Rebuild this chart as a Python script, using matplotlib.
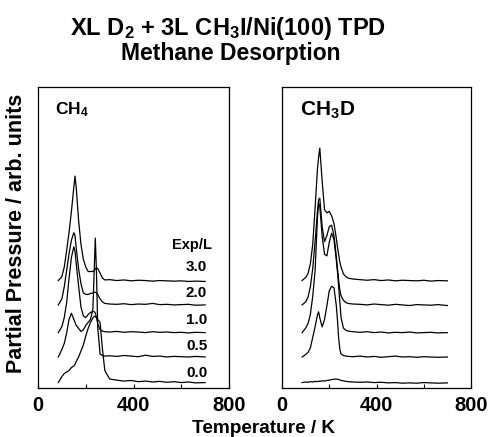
import matplotlib
matplotlib.use('Agg')
import matplotlib.pyplot as plt
from matplotlib.ticker import MultipleLocator

plt.rcParams['font.family'] = ['Liberation Sans', 'DejaVu Sans']
plt.rcParams['font.weight'] = 'bold'

# temperature grid (K) shared by all traces
temp = [85, 100, 110, 120, 130, 140, 150, 155, 160, 170, 180, 190, 200, 210, 220,
        230, 235, 240, 245, 250, 260, 270, 280, 300, 330, 360, 390, 420, 450, 480,
        510, 540, 570, 600, 630, 660, 700]

exposures = ['0.0', '0.5', '1.0', '2.0', '3.0']

# CH4 signal, arb. units
ch4_00 = [0, 2, 3, 3.5, 4, 5, 5.5, 6, 7, 8.5, 10.5, 12.5, 15.5, 18, 20, 21.5, 22, 22, 21.5, 21,
          20, 11, 4, 1.2, 0.8, 0.5, 0.7, 0.3, 0.5, 0.2, 0.4, 0.1, 0.3, 0, 0.2, -0.1, 0]
ch4_05 = [0, 2.5, 4.5, 8, 12.5, 14.5, 12.5, 11.5, 10.5, 9.5, 8.5, 9, 10.5, 11.5, 12.5, 16, 28, 39.5, 28, 10,
          1, 0.5, 0.3, 0.4, 0.2, 0.5, 0.3, 0.1, 0.6, 0.2, 0.3, 0, 0.2, 0.1, 0, 0.2, 0]
ch4_10 = [0, 2, 5, 10, 18, 25, 28.5, 27, 23, 15.5, 8.5, 5.5, 5, 6, 6.7, 7, 7, 6.5, 5, 3,
          1, 0.5, 0.3, 0.2, 0.4, 0.1, 0.3, 0.2, 0, 0.3, 0.1, 0.2, 0, 0.1, -0.1, 0.1, 0]
ch4_20 = [0, 2, 6, 11.5, 17, 21.5, 24, 23, 19, 12, 7, 4, 3.5, 3.5, 3.8, 4, 4.2, 4.2, 4, 3.5,
          2, 1, 0.5, 0.3, 0.2, 0.4, 0.1, 0.3, 0.2, 0.5, 0.1, 0.2, 0, 0.1, 0.2, -0.1, 0]
ch4_30 = [0, 1.3, 4.5, 10, 16, 23, 31, 34.7, 31, 20, 12, 7, 4.5, 3, 3, 3, 3.3, 3.8, 4.3, 4,
          2.5, 0.8, 0.2, 0.3, 0, 0.2, -0.1, 0.1, 0, -0.2, 0, -0.1, -0.2, -0.1, -0.3, -0.2, -0.3]

# CH3D signal, arb. units
cd3_00 = [0, 0.2, 0.1, 0.3, 0.2, 0.4, 0.3, 0.5, 0.4, 0.6, 0.5, 0.7, 0.8, 1.0, 1.1, 1.2, 1.1, 1.0, 0.9, 0.7,
          0.6, 0.4, 0.3, 0.2, 0.1, 0.2, 0, 0.1, -0.1, 0, -0.2, -0.1, -0.2, 0, -0.1, -0.2, -0.1]
cd3_05 = [0, 0.8, 1.5, 3, 6.5, 10, 14, 15, 13, 10, 12.5, 17, 22, 23.5, 23, 17, 12, 6, 2.5, 1,
          0.5, 0.3, 0.2, 0.1, 0.3, 0, 0.2, -0.1, 0.1, 0.3, 0, 0.1, -0.1, 0.1, 0, -0.1, 0]
cd3_10 = [0, 1.5, 3, 6, 12, 20.5, 38, 43, 42, 32, 26, 25.5, 30, 33, 31, 24, 20, 15, 10, 5,
          1.5, 0.8, 0.5, 0.3, 0.1, 0.3, 0, 0.2, -0.1, 0.1, 0, 0.2, -0.1, 0, 0.1, -0.1, 0]
cd3_20 = [0, 1, 2.5, 6, 12, 21, 31, 35, 35.5, 26, 21, 23, 26, 26.5, 23, 16, 12, 8, 5, 3,
          1.5, 0.8, 0.5, 0.3, 0.2, 0, 0.3, 0.1, -0.1, 0.2, 0, -0.2, 0.1, 0, -0.1, 0.1, -0.2]
cd3_30 = [0, 1, 2.3, 5.5, 12, 24, 37, 41, 44, 33, 23.5, 22.5, 23, 21.5, 19, 14, 11, 8.5, 6, 4.5,
          2.2, 1.3, 0.8, 0.5, 0.3, 0.1, 0.3, 0, 0.2, -0.1, 0.1, 0, -0.1, 0.1, -0.2, 0, -0.1]

ch4 = [ch4_00, ch4_05, ch4_10, ch4_20, ch4_30]
cd3 = [cd3_00, cd3_05, cd3_10, cd3_20, cd3_30]

# vertical stacking of the traces
offsets = [1.8, 10.3, 18.4, 27.6, 35.7]
label_y = [5.0, 13.8, 22.6, 31.5, 40.2]

fig = plt.figure(figsize=(4.91, 4.37), dpi=100)
W, H = 491, 437
ax1 = fig.add_axes([38 / W, 1 - 388 / H, 191 / W, 301 / H])
ax2 = fig.add_axes([282 / W, 1 - 388 / H, 189 / W, 301 / H])

for ax, traces in [(ax1, ch4), (ax2, cd3)]:
    for off, sig in zip(offsets, traces):
        ax.plot(temp, [v + off for v in sig], color='black', lw=0.9)
    ax.set_xlim(0, 800)
    ax.set_ylim(0, 100)
    ax.set_yticks([])
    ax.xaxis.set_major_locator(MultipleLocator(400))
    ax.xaxis.set_minor_locator(MultipleLocator(200))
    ax.tick_params(axis='x', which='both', direction='in', length=3, width=0.8, pad=6,
                   labelsize=14.5)
    for lab in ax.get_xticklabels():
        lab.set_fontweight('bold')
    for sp in ax.spines.values():
        sp.set_linewidth(0.9)

ax1.text(71, 92.4, 'CH$\\mathregular{_4}$', fontsize=12.5, fontweight='bold', va='center', ha='left')
ax2.text(76, 92.4, 'CH$\\mathregular{_3}$D', fontsize=15, fontweight='bold', va='center', ha='left')

ax1.text(643, 47.5, 'Exp/L', fontsize=10.5, fontweight='bold', ha='center', va='center')
for ex, ly in zip(exposures, label_y):
    ax1.text(664, ly, ex, fontsize=11, fontweight='bold', ha='center', va='center')

fig.text(228 / W, 1 - 35 / H, 'XL D$\\mathregular{_2}$ + 3L CH$\\mathregular{_3}$I/Ni(100) TPD',
         fontsize=17, fontweight='bold', ha='center', va='baseline')
fig.text(231 / W, 1 - 60 / H, 'Methane Desorption',
         fontsize=16.5, fontweight='bold', ha='center', va='baseline')
fig.text(264 / W, 1 - 433 / H, 'Temperature / K', fontsize=13.7, fontweight='bold',
         ha='center', va='baseline')
fig.text(17 / W, 1 - 233 / H, 'Partial Pressure / arb. units', fontsize=15.5, fontweight='bold',
         rotation=90, ha='center', va='center')

fig.savefig('out.png', dpi=100)
